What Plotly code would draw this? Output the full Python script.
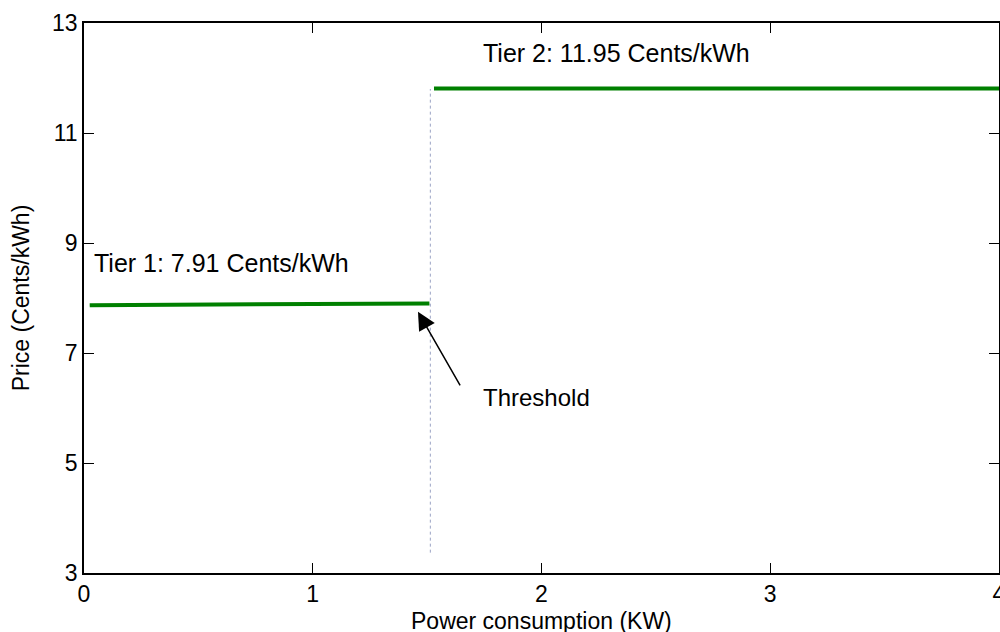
import plotly.graph_objects as go

# Data
tier1_x = [0.025, 0.5, 1.0, 1.51]
tier1_y = [7.87, 7.88, 7.89, 7.90]
tier2_x = [1.53, 4.0]
tier2_y = [11.81, 11.81]
threshold_x = [1.514, 1.514]
threshold_y = [3.37, 11.80]
x_ticks = [0, 1, 2, 3, 4]
y_ticks = [3, 5, 7, 9, 11, 13]

FONT = "Liberation Sans, Arial, sans-serif"

fig = go.Figure()
fig.add_trace(go.Scatter(x=threshold_x, y=threshold_y, mode="lines",
                         line=dict(color="#9aa3c4", width=1, dash="dot"),
                         showlegend=False, hoverinfo="skip"))
fig.add_trace(go.Scatter(x=tier1_x, y=tier1_y, mode="lines",
                         line=dict(color="#008000", width=4),
                         showlegend=False))
fig.add_trace(go.Scatter(x=tier2_x, y=tier2_y, mode="lines",
                         line=dict(color="#008000", width=4),
                         showlegend=False))

# Arrow annotation
fig.add_annotation(x=1.46, y=7.75, ax=1.648, ay=6.385, xref="x", yref="y",
                   axref="x", ayref="y", text="", showarrow=True,
                   arrowhead=2, arrowsize=2.4, arrowwidth=1.5, arrowcolor="black")
fig.add_annotation(x=1.735, y=6.20, xref="x", yref="y", text="Threshold",
                   showarrow=False, xanchor="left", yanchor="middle",
                   font=dict(family=FONT, size=24, color="black"))
fig.add_annotation(x=0.034, y=8.64, xref="x", yref="y", text="Tier 1: 7.91 Cents/kWh",
                   showarrow=False, xanchor="left", yanchor="middle",
                   font=dict(family=FONT, size=25, color="black"))
fig.add_annotation(x=1.735, y=12.455, xref="x", yref="y", text="Tier 2: 11.95 Cents/kWh",
                   showarrow=False, xanchor="left", yanchor="middle",
                   font=dict(family=FONT, size=25, color="black"))
# X axis title (placed as paper annotation for exact position)
fig.add_annotation(x=0.5, y=-0.087, xref="paper", yref="paper",
                   text="Power consumption (KW)", showarrow=False,
                   xanchor="center", yanchor="middle",
                   font=dict(family=FONT, size=23, color="black"))

axis_common = dict(showline=True, linecolor="black", linewidth=1.5, mirror="ticks",
                    ticks="inside", ticklen=10, tickcolor="black", tickwidth=1,
                    showgrid=False, zeroline=False, ticklabeloverflow="allow",
                    tickfont=dict(family=FONT, size=23, color="black"))

fig.update_xaxes(range=[0, 4], tickvals=x_ticks, ticktext=[str(v) for v in x_ticks],
                 **axis_common)
fig.update_yaxes(range=[3, 13], tickvals=y_ticks, ticktext=[str(v) for v in y_ticks],
                 title=dict(text="Price (Cents/kWh)", standoff=16,
                            font=dict(family=FONT, size=23, color="black")),
                 **axis_common)

fig.update_layout(width=1000, height=632,
                  margin=dict(l=84, r=1, t=23, b=59, autoexpand=False),
                  plot_bgcolor="white", paper_bgcolor="white",
                  font=dict(family=FONT, color="black"))

fig.write_html("out.html", config={"displayModeBar": False},
               post_script="document.body.style.margin='0';document.body.style.overflow='hidden';")
